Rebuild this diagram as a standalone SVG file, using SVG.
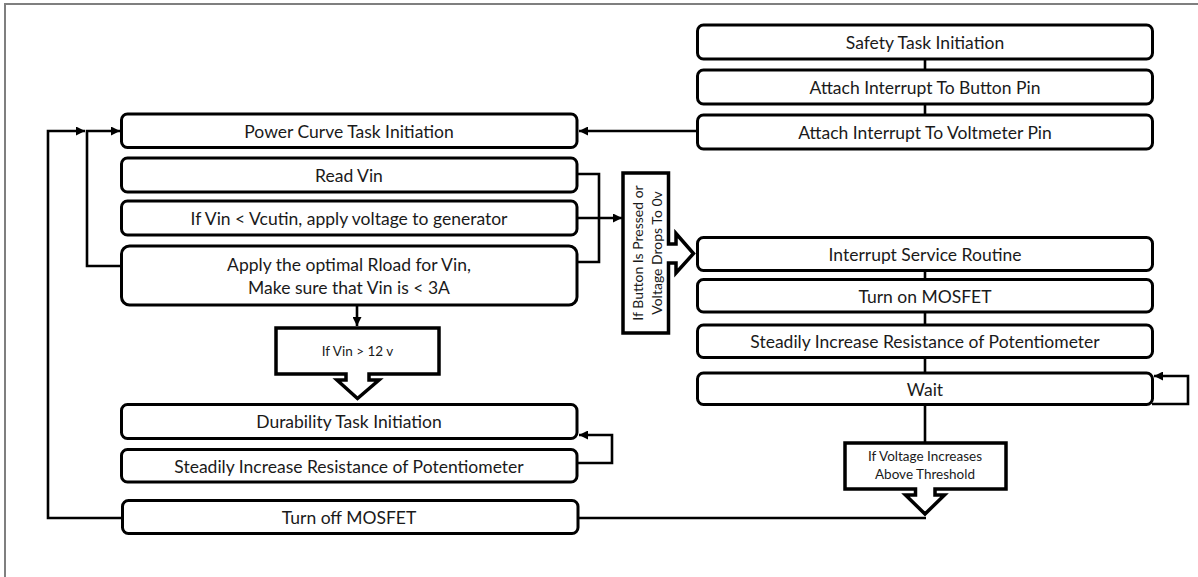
<svg xmlns="http://www.w3.org/2000/svg" width="1198" height="577" viewBox="0 0 1198 577">
<defs>
<style>
.box{fill:#fff;stroke:#000;stroke-width:3}
.co{fill:#fff;stroke:#000;stroke-width:3.5;stroke-linejoin:miter}
.ln{fill:none;stroke:#000;stroke-width:2.6}
.t{font-family:Lato,"Open Sans",sans-serif;font-size:17.5px;fill:#1a1a1a;text-anchor:middle;dominant-baseline:central}
.s{font-family:Lato,"Open Sans",sans-serif;font-size:13.5px;fill:#1a1a1a;text-anchor:middle;dominant-baseline:central}
.r{font-family:Lato,"Open Sans",sans-serif;font-size:14px;fill:#1a1a1a;text-anchor:middle;dominant-baseline:central}
</style>
<marker id="ah" viewBox="0 0 10 10" refX="10" refY="5" markerWidth="9" markerHeight="9" markerUnits="userSpaceOnUse" orient="auto">
<path d="M0,0 L10,5 L0,10 Z" fill="#000"/>
</marker>
</defs>
<rect x="0" y="0" width="1198" height="577" fill="#fff"/>
<rect x="5" y="4" width="1210" height="600" fill="none" stroke="#7f7f7f" stroke-width="2"/>

<g id="connectors">
<path class="ln" d="M122,518 H48 V131 H85" marker-end="url(#ah)"/>
<path class="ln" d="M121,266 H87 V131 H120" marker-end="url(#ah)"/>
<path class="ln" d="M697,131 H579" marker-end="url(#ah)"/>
<path class="ln" d="M925,59 V70 M925,104 V115"/>
<path class="ln" d="M577,174 H599 V262 H577"/>
<path class="ln" d="M577,218 H622" marker-end="url(#ah)"/>
<path class="ln" d="M357,305 V326" marker-end="url(#ah)"/>
<path class="ln" d="M577,463 H612 V435 H579" marker-end="url(#ah)"/>
<path class="ln" d="M925,271 V279 M925,312 V325 M925,358 V373"/>
<path class="ln" d="M1152,404 H1188 V376 H1154" marker-end="url(#ah)"/>
<path class="ln" d="M925,405 V443"/>
<path class="ln" d="M578,518 H926"/>
</g>

<g id="n-safety"><rect class="box" x="697.5" y="25" width="455" height="34" rx="6"/><text class="t" x="925" y="42">Safety Task Initiation</text></g>
<g id="n-button"><rect class="box" x="697.5" y="70" width="455" height="34" rx="6"/><text class="t" x="925" y="87">Attach Interrupt To Button Pin</text></g>
<g id="n-voltmeter"><rect class="box" x="697.5" y="115" width="455" height="34" rx="6"/><text class="t" x="925" y="132">Attach Interrupt To Voltmeter Pin</text></g>

<g id="n-power"><rect class="box" x="121.5" y="114" width="455.5" height="33.5" rx="6"/><text class="t" x="349" y="131">Power Curve Task Initiation</text></g>
<g id="n-readvin"><rect class="box" x="121.5" y="158" width="455.5" height="34" rx="6"/><text class="t" x="349" y="175">Read Vin</text></g>
<g id="n-vcutin"><rect class="box" x="121.5" y="201" width="455.5" height="34" rx="6"/><text class="t" x="349" y="218">If Vin &lt; Vcutin, apply voltage to generator</text></g>
<g id="n-apply"><rect class="box" x="121.5" y="246" width="455.5" height="59" rx="8"/><text class="t" x="349" y="264.5">Apply the optimal Rload for Vin,</text><text class="t" x="349" y="287">Make sure that Vin is &lt; 3A</text></g>

<g id="n-cond12"><path class="co" d="M276,328 H439 V374 H369 V380 H379 L357.5,398.5 L337,380 H346 V374 H276 Z"/><text class="s" x="357.5" y="351">If Vin &gt; 12 v</text></g>

<g id="n-durability"><rect class="box" x="121.5" y="404.5" width="455.5" height="34" rx="6"/><text class="t" x="349" y="421.5">Durability Task Initiation</text></g>
<g id="n-steady-left"><rect class="box" x="121.5" y="449.5" width="455.5" height="32.5" rx="6"/><text class="t" x="349" y="466">Steadily Increase Resistance of Potentiometer</text></g>
<g id="n-turnoff"><rect class="box" x="122.5" y="500.5" width="455.5" height="33" rx="6"/><text class="t" x="349" y="517">Turn off MOSFET</text></g>

<g id="n-condbutton"><path class="co" d="M623,173 H668.5 V244 H676 V233.5 L693.5,253.5 L676,273 V263 H668.5 V333 H623 Z"/><text class="r" transform="translate(637,253) rotate(-90)">If Button Is Pressed or</text><text class="r" transform="translate(656.5,253) rotate(-90)">Voltage Drops To 0v</text></g>

<g id="n-isr"><rect class="box" x="697.5" y="237.5" width="455" height="33" rx="6"/><text class="t" x="925" y="254">Interrupt Service Routine</text></g>
<g id="n-turnon"><rect class="box" x="697.5" y="279.5" width="455" height="32.5" rx="6"/><text class="t" x="925" y="296">Turn on MOSFET</text></g>
<g id="n-steady-right"><rect class="box" x="697.5" y="325" width="455" height="32.5" rx="6"/><text class="t" x="925" y="341.5">Steadily Increase Resistance of Potentiometer</text></g>
<g id="n-wait"><rect class="box" x="697.5" y="373" width="455" height="31.5" rx="6"/><text class="t" x="925" y="389">Wait</text></g>

<g id="n-condthreshold"><path class="co" d="M845,443 H1006 V489 H935 V495 H944.5 L925,514 L905.5,495 H915.5 V489 H845 Z"/><text class="s" x="925" y="456">If Voltage Increases</text><text class="s" x="925" y="473.5">Above Threshold</text></g>
</svg>
